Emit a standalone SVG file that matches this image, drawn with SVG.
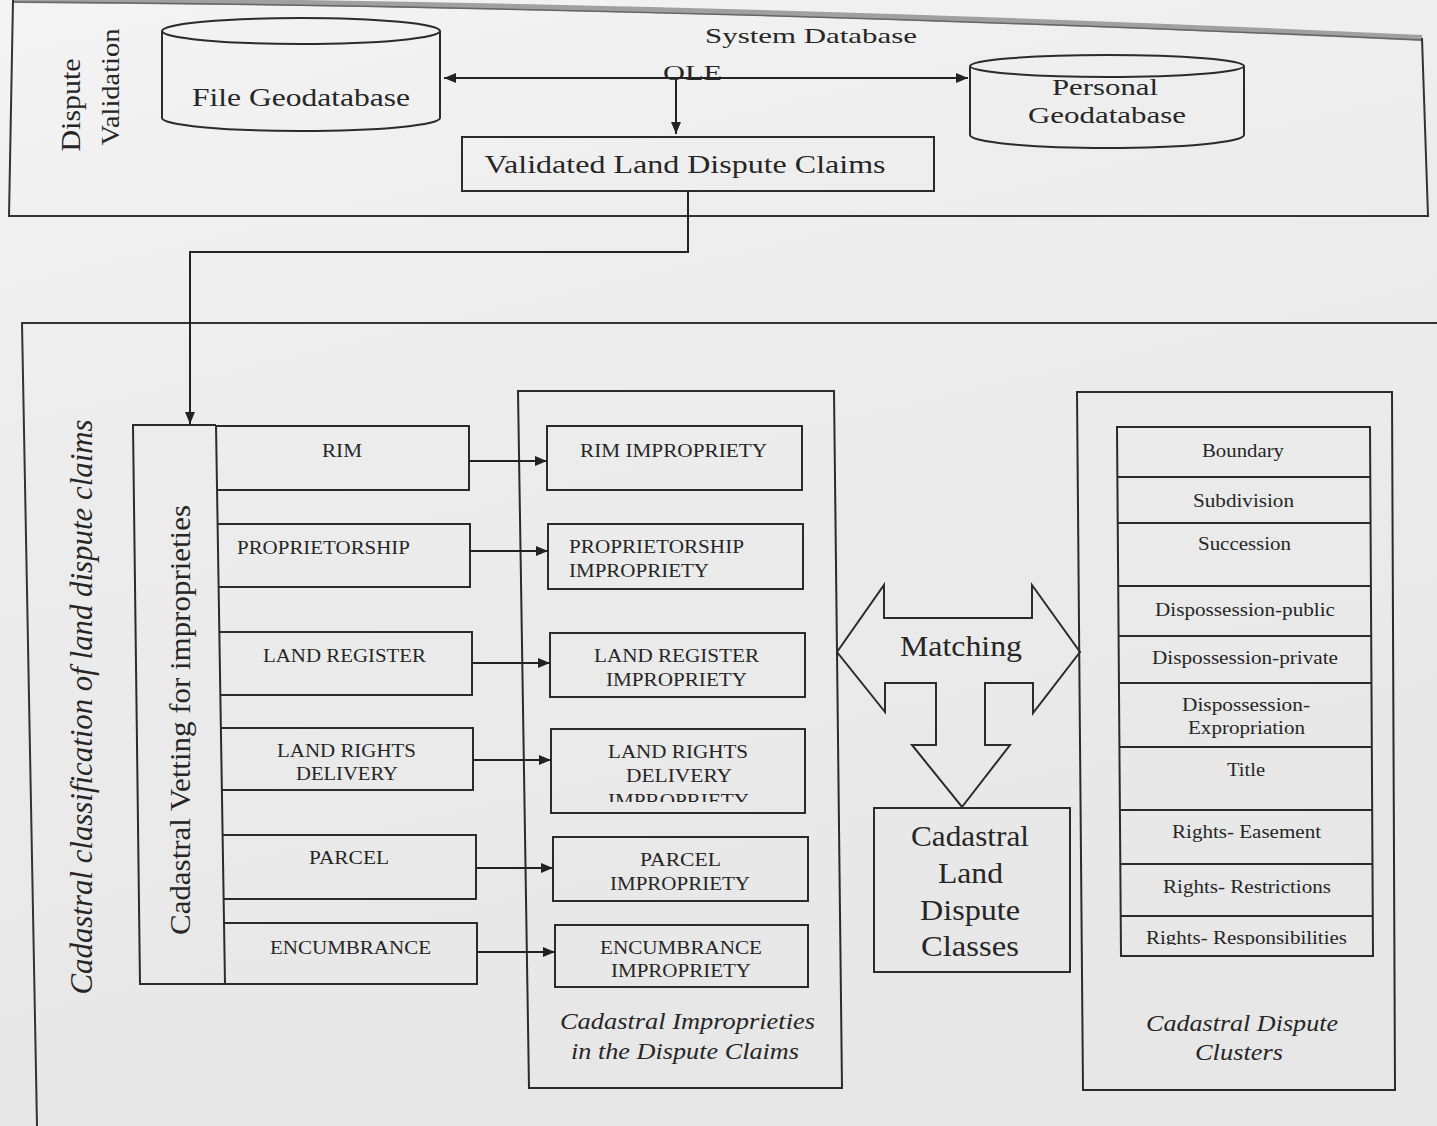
<svg xmlns="http://www.w3.org/2000/svg" width="1437" height="1126" viewBox="0 0 1437 1126">
  <defs>
    <linearGradient id="paper" x1="0" y1="0" x2="0.3" y2="1">
      <stop offset="0" stop-color="#f4f4f4"/>
      <stop offset="0.35" stop-color="#ededed"/>
      <stop offset="1" stop-color="#e7e7e7"/>
    </linearGradient>
    <marker id="arrow" viewBox="0 0 12 10" refX="12" refY="5" markerWidth="12" markerHeight="10" markerUnits="userSpaceOnUse" orient="auto-start-reverse">
      <path d="M0,0 L12,5 L0,10 Z" fill="#222"/>
    </marker>
    <clipPath id="clipLrd"><rect x="540" y="720" width="280" height="82"/></clipPath>
    <clipPath id="clipResp"><rect x="1110" y="918" width="270" height="27"/></clipPath>
  </defs>
  <style>
    .frame { fill: none; stroke: #333; stroke-width: 2; }
    .box { fill: none; stroke: #2b2b2b; stroke-width: 2; }
    .line { fill: none; stroke: #2b2b2b; stroke-width: 2; }
    .conn { fill: none; stroke: #222; stroke-width: 2; }
    text { fill: #262626; font-family: "Liberation Serif", "Times New Roman", serif; text-anchor: middle; }
    .lbl { font-size: 19px; }
    .start { text-anchor: start; }
    .cls { font-size: 19px; }
    .cap { font-size: 23px; font-style: italic; }
    .big { font-size: 26px; }
  </style>

  <!-- paper -->
  <rect x="0" y="0" width="1437" height="1126" fill="url(#paper)"/>

  <!-- upper frame: dispute validation -->
  <g id="frame-validation">
    <path d="M14,0 Q700,4 1422,38" fill="none" stroke="#a0a0a0" stroke-width="6"/>
    <path d="M14,2 Q700,7 1422,40" fill="none" stroke="#666" stroke-width="1.5"/>
    <path class="frame" d="M13,0 L9,216 L1428,216 L1422,38"/>
    <text transform="translate(80,105) rotate(-90)" font-size="28" textLength="93" lengthAdjust="spacingAndGlyphs">Dispute</text>
    <text transform="translate(119,87) rotate(-90)" font-size="26" textLength="117" lengthAdjust="spacingAndGlyphs">Validation</text>
    <text x="811" y="43" font-size="21" textLength="212" lengthAdjust="spacingAndGlyphs">System Database</text>
  </g>

  <!-- lower frame: cadastral classification -->
  <g id="frame-classification">
    <path class="frame" d="M1437,323 L22,323 L37,1126"/>
    <text transform="translate(92,707) rotate(-90)" font-size="31" font-style="italic" textLength="575" lengthAdjust="spacingAndGlyphs">Cadastral classification of land dispute claims</text>
  </g>

  <!-- file geodatabase -->
  <g id="file-geodatabase">
    <path class="box" d="M162,31 L162,118 A139,13 0 0 0 440,118 L440,31"/>
    <ellipse class="box" cx="301" cy="31" rx="139" ry="13"/>
    <text class="big" x="301" y="106" textLength="218" lengthAdjust="spacingAndGlyphs">File Geodatabase</text>
  </g>

  <!-- personal geodatabase -->
  <g id="personal-geodatabase">
    <path class="box" d="M970,66 L970,135 A137,13 0 0 0 1244,135 L1244,66"/>
    <ellipse class="box" cx="1107" cy="66" rx="137" ry="11"/>
    <text x="1105" y="95" font-size="24" textLength="106" lengthAdjust="spacingAndGlyphs">Personal</text>
    <text x="1107" y="123" font-size="24" textLength="158" lengthAdjust="spacingAndGlyphs">Geodatabase</text>
  </g>

  <!-- validated claims -->
  <g id="validated-claims">
    <rect class="box" x="462" y="137" width="472" height="54"/>
    <text class="big" x="685" y="173" textLength="401" lengthAdjust="spacingAndGlyphs">Validated Land Dispute Claims</text>
  </g>

  <!-- vetting block -->
  <g id="vetting">
    <path class="box" d="M216,425 L133,425 L140,984 L225,984 L216,425"/>
    <text transform="translate(190,720) rotate(-90)" font-size="29" textLength="430" lengthAdjust="spacingAndGlyphs">Cadastral Vetting for improprieties</text>
  </g>
  <g id="vet-rim">
    <path class="box" d="M216,426 L469,426 L469,490 L217,490"/>
    <text class="lbl" x="342" y="457" textLength="40" lengthAdjust="spacingAndGlyphs">RIM</text>
  </g>
  <g id="vet-proprietorship">
    <path class="box" d="M217,524 L470,524 L470,587 L218,587"/>
    <text class="lbl" x="323.5" y="554" textLength="173" lengthAdjust="spacingAndGlyphs">PROPRIETORSHIP</text>
  </g>
  <g id="vet-land-register">
    <path class="box" d="M219,632 L472,632 L472,695 L220,695"/>
    <text class="lbl" x="344.5" y="662" textLength="163" lengthAdjust="spacingAndGlyphs">LAND REGISTER</text>
  </g>
  <g id="vet-land-rights">
    <path class="box" d="M220,728 L473,728 L473,790 L221,790"/>
    <text class="lbl" x="346.5" y="757" textLength="139" lengthAdjust="spacingAndGlyphs">LAND RIGHTS</text>
    <text class="lbl" x="347" y="780" textLength="102" lengthAdjust="spacingAndGlyphs">DELIVERY</text>
  </g>
  <g id="vet-parcel">
    <path class="box" d="M222,835 L476,835 L476,899 L223,899"/>
    <text class="lbl" x="349" y="864" textLength="80" lengthAdjust="spacingAndGlyphs">PARCEL</text>
  </g>
  <g id="vet-encumbrance">
    <path class="box" d="M224,923 L477,923 L477,984 L225,984"/>
    <text class="lbl" x="350.5" y="954" textLength="161" lengthAdjust="spacingAndGlyphs">ENCUMBRANCE</text>
  </g>

  <!-- improprieties container -->
  <g id="improprieties">
    <path class="box" d="M518,391 L834,391 L842,1088 L529,1088 Z"/>
    <text class="cap" x="687.5" y="1029" textLength="255" lengthAdjust="spacingAndGlyphs">Cadastral Improprieties</text>
    <text class="cap" x="685" y="1059" textLength="228" lengthAdjust="spacingAndGlyphs">in the Dispute Claims</text>
  </g>
  <g id="imp-rim">
    <rect class="box" x="547" y="426" width="255" height="64"/>
    <text class="lbl" x="673.5" y="457" textLength="187" lengthAdjust="spacingAndGlyphs">RIM IMPROPRIETY</text>
  </g>
  <g id="imp-proprietorship">
    <rect class="box" x="548" y="524" width="255" height="65"/>
    <text class="lbl start" x="569" y="553" textLength="175" lengthAdjust="spacingAndGlyphs">PROPRIETORSHIP</text>
    <text class="lbl start" x="569" y="577" textLength="140" lengthAdjust="spacingAndGlyphs">IMPROPRIETY</text>
  </g>
  <g id="imp-land-register">
    <rect class="box" x="550" y="633" width="255" height="64"/>
    <text class="lbl" x="676.5" y="662" textLength="165" lengthAdjust="spacingAndGlyphs">LAND REGISTER</text>
    <text class="lbl" x="676.5" y="686" textLength="141" lengthAdjust="spacingAndGlyphs">IMPROPRIETY</text>
  </g>
  <g id="imp-land-rights">
    <rect class="box" x="551" y="729" width="254" height="84"/>
    <text class="lbl" x="678" y="758" textLength="140" lengthAdjust="spacingAndGlyphs">LAND RIGHTS</text>
    <text class="lbl" x="679" y="782" textLength="106" lengthAdjust="spacingAndGlyphs">DELIVERY</text>
    <text class="lbl" x="678.5" y="807" textLength="141" lengthAdjust="spacingAndGlyphs" clip-path="url(#clipLrd)">IMPROPRIETY</text>
  </g>
  <g id="imp-parcel">
    <rect class="box" x="553" y="837" width="255" height="64"/>
    <text class="lbl" x="680.5" y="866" textLength="81" lengthAdjust="spacingAndGlyphs">PARCEL</text>
    <text class="lbl" x="680" y="890" textLength="140" lengthAdjust="spacingAndGlyphs">IMPROPRIETY</text>
  </g>
  <g id="imp-encumbrance">
    <rect class="box" x="555" y="925" width="253" height="62"/>
    <text class="lbl" x="681" y="954" textLength="162" lengthAdjust="spacingAndGlyphs">ENCUMBRANCE</text>
    <text class="lbl" x="681" y="977" textLength="140" lengthAdjust="spacingAndGlyphs">IMPROPRIETY</text>
  </g>

  <!-- matching arrow -->
  <g id="matching">
    <path class="box" d="M837,652 L884,585 L884,618 L1032,618 L1032,585 L1080,652 L1033,713 L1033,683 L985,683 L985,745 L1010,745 L962,807 L912,745 L936,745 L936,683 L885,683 L885,712 Z"/>
    <text x="961" y="656" font-size="30" textLength="122" lengthAdjust="spacingAndGlyphs">Matching</text>
  </g>

  <!-- dispute classes -->
  <g id="dispute-classes">
    <rect class="box" x="874" y="808" width="196" height="164"/>
    <text x="970" y="846" font-size="29" textLength="118" lengthAdjust="spacingAndGlyphs">Cadastral</text>
    <text x="970.5" y="883" font-size="29" textLength="65" lengthAdjust="spacingAndGlyphs">Land</text>
    <text x="970" y="920" font-size="29" textLength="100" lengthAdjust="spacingAndGlyphs">Dispute</text>
    <text x="970" y="956" font-size="29" textLength="98" lengthAdjust="spacingAndGlyphs">Classes</text>
  </g>

  <!-- dispute clusters -->
  <g id="dispute-clusters">
    <path class="box" d="M1077,392 L1392,392 L1395,1090 L1083,1090 Z"/>
    <path class="box" d="M1117,427 L1370,427 L1373,956 L1121,956 Z"/>
    <path class="line" d="M1117,477 L1370,477 M1118,523 L1370,523 M1118,586 L1371,586 M1118,636 L1371,636 M1119,683 L1371,683 M1119,747 L1372,747 M1120,810 L1372,810 M1120,864 L1372,864 M1121,916 L1373,916"/>
    <text class="cls" x="1243" y="457" textLength="82" lengthAdjust="spacingAndGlyphs">Boundary</text>
    <text class="cls" x="1243.5" y="507" textLength="101" lengthAdjust="spacingAndGlyphs">Subdivision</text>
    <text class="cls" x="1244.5" y="550" textLength="93" lengthAdjust="spacingAndGlyphs">Succession</text>
    <text class="cls" x="1245" y="616" textLength="180" lengthAdjust="spacingAndGlyphs">Dispossession-public</text>
    <text class="cls" x="1245" y="664" textLength="186" lengthAdjust="spacingAndGlyphs">Dispossession-private</text>
    <text class="cls" x="1246" y="711" textLength="128" lengthAdjust="spacingAndGlyphs">Dispossession-</text>
    <text class="cls" x="1246.5" y="734" textLength="117" lengthAdjust="spacingAndGlyphs">Expropriation</text>
    <text class="cls" x="1246" y="776" textLength="38" lengthAdjust="spacingAndGlyphs">Title</text>
    <text class="cls" x="1246.5" y="838" textLength="149" lengthAdjust="spacingAndGlyphs">Rights- Easement</text>
    <text class="cls" x="1247" y="893" textLength="168" lengthAdjust="spacingAndGlyphs">Rights- Restrictions</text>
    <text class="cls" x="1246.5" y="944" textLength="201" lengthAdjust="spacingAndGlyphs" clip-path="url(#clipResp)">Rights- Responsibilities</text>
    <text class="cap" x="1242" y="1031" textLength="192" lengthAdjust="spacingAndGlyphs">Cadastral Dispute</text>
    <text class="cap" x="1239" y="1060" textLength="88" lengthAdjust="spacingAndGlyphs">Clusters</text>
  </g>

  <!-- connectors -->
  <g id="connectors">
    <path class="conn" d="M676,78 L444,78" marker-end="url(#arrow)"/>
    <path class="conn" d="M676,78 L968,78" marker-end="url(#arrow)"/>
    <text x="692.5" y="80" font-size="22" textLength="59" lengthAdjust="spacingAndGlyphs">OLE</text>
    <path class="conn" d="M676,78 L676,134" marker-end="url(#arrow)"/>
    <path class="conn" d="M688,191 L688,252 L190,252 L190,424" marker-end="url(#arrow)"/>
    <path class="conn" d="M469,461 L547,461" marker-end="url(#arrow)"/>
    <path class="conn" d="M470,551 L548,551" marker-end="url(#arrow)"/>
    <path class="conn" d="M472,663 L550,663" marker-end="url(#arrow)"/>
    <path class="conn" d="M473,760 L551,760" marker-end="url(#arrow)"/>
    <path class="conn" d="M476,868 L553,868" marker-end="url(#arrow)"/>
    <path class="conn" d="M477,952 L555,952" marker-end="url(#arrow)"/>
  </g>
</svg>
